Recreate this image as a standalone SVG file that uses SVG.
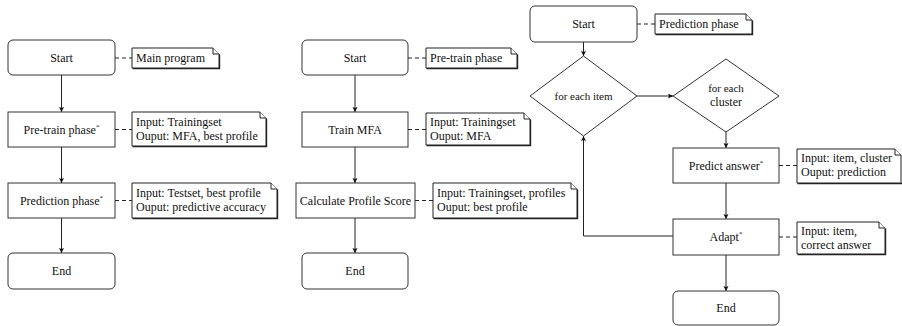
<svg xmlns="http://www.w3.org/2000/svg" width="902" height="326" viewBox="0 0 902 326" font-family="'Liberation Serif', 'DejaVu Serif', serif">
<defs>
<marker id="ah" markerWidth="6" markerHeight="6" refX="5" refY="2.5" orient="auto" markerUnits="userSpaceOnUse">
<path d="M0,0 L5,2.5 L0,5 L1,2.5 z" fill="#111"/>
</marker>
<style>
text{font-family:'Liberation Serif','DejaVu Serif',serif}
.box{fill:#fff;stroke:#333;stroke-width:1}
.t{font-size:12px;fill:#111}
.m{text-anchor:middle}
.s{font-size:11px}
.sup{font-size:7px}
.note{fill:#fff;stroke:#222;stroke-width:1}
.sh{fill:none;stroke:#222;stroke-width:1.2}
.fold{fill:#fff;stroke:#222;stroke-width:1}
.arr{fill:none;stroke:#222;stroke-width:1;marker-end:url(#ah)}
.d{fill:none;stroke:#222;stroke-width:1;stroke-dasharray:4 3}
</style>
</defs>
<rect width="902" height="326" fill="#fff"/>

<g id="connectors">
<line class="arr" x1="61.5" y1="75" x2="61.5" y2="112"/>
<line class="arr" x1="61.5" y1="147" x2="61.5" y2="183"/>
<line class="arr" x1="61.5" y1="218" x2="61.5" y2="253"/>
<line class="d" x1="115" y1="58" x2="132" y2="58"/>
<line class="d" x1="115" y1="129.5" x2="132" y2="129.5"/>
<line class="d" x1="115" y1="200.5" x2="132" y2="200.5"/>

<line class="arr" x1="355" y1="75" x2="355" y2="112"/>
<line class="arr" x1="355" y1="147" x2="355" y2="183"/>
<line class="arr" x1="355" y1="218" x2="355" y2="253"/>
<line class="d" x1="408" y1="58" x2="426" y2="58"/>
<line class="d" x1="408" y1="129.5" x2="426" y2="129.5"/>
<line class="d" x1="415" y1="200.5" x2="433" y2="200.5"/>

<line class="arr" x1="583.5" y1="42" x2="583.5" y2="56"/>
<line class="arr" x1="637" y1="96" x2="673" y2="96"/>
<line class="arr" x1="726" y1="132" x2="726" y2="148"/>
<line class="arr" x1="726" y1="183" x2="726" y2="219"/>
<line class="arr" x1="726" y1="255" x2="726" y2="291"/>
<path class="arr" d="M673,236 H583.5 V136"/>
<line class="d" x1="637" y1="24" x2="655" y2="24"/>
<line class="d" x1="779" y1="165.5" x2="797" y2="165.5"/>
<line class="d" x1="779" y1="237" x2="797" y2="237"/>
</g>

<!-- Column 1 -->
<g id="c1-start"><rect class="box" x="8" y="40" width="107" height="35" rx="5"/><text class="t m" x="61.5" y="61.5">Start</text></g>
<g id="c1-pretrain"><rect class="box" x="8" y="112" width="107" height="35"/><text class="t m" x="61.5" y="133.5">Pre-train phase<tspan class="sup" dy="-5">*</tspan></text></g>
<g id="c1-prediction"><rect class="box" x="8" y="183" width="107" height="35"/><text class="t m" x="61.5" y="204.5">Prediction phase<tspan class="sup" dy="-5">*</tspan></text></g>
<g id="c1-end"><rect class="box" x="8" y="253" width="107" height="36" rx="5"/><text class="t m" x="61.5" y="275">End</text></g>

<g id="c1-note-main">
<path class="sh" d="M219.6,54.6 V68.6 H132.6"/>
<path class="note" d="M132,48 H213 L219,54 V68 H132 Z"/>
<path class="fold" d="M213,48 V54 H219"/>
<text class="t" x="136" y="62">Main program</text>
</g>
<g id="c1-note-pretrain">
<path class="sh" d="M266.6,118.6 V146.6 H132.6"/>
<path class="note" d="M132,112 H260 L266,118 V146 H132 Z"/>
<path class="fold" d="M260,112 V118 H266"/>
<text class="t" x="136" y="126">Input: Trainingset</text>
<text class="t" x="136" y="140">Ouput: MFA, best profile</text>
</g>
<g id="c1-note-prediction">
<path class="sh" d="M277.6,189.6 V218.6 H132.6"/>
<path class="note" d="M132,183 H271 L277,189 V218 H132 Z"/>
<path class="fold" d="M271,183 V189 H277"/>
<text class="t" x="136" y="197">Input: Testset, best profile</text>
<text class="t" x="136" y="211">Ouput: predictive accuracy</text>
</g>

<!-- Column 2 -->
<g id="c2-start"><rect class="box" x="302" y="40" width="106" height="35" rx="5"/><text class="t m" x="355" y="61.5">Start</text></g>
<g id="c2-train"><rect class="box" x="302" y="112" width="106" height="35"/><text class="t m" x="355" y="133.5">Train MFA</text></g>
<g id="c2-calc"><rect class="box" x="296" y="183" width="119" height="35"/><text class="t m" x="355.5" y="204.5">Calculate Profile Score</text></g>
<g id="c2-end"><rect class="box" x="302" y="253" width="106" height="36" rx="5"/><text class="t m" x="355" y="275">End</text></g>

<g id="c2-note-pretrain">
<path class="sh" d="M517.6,54.6 V68.6 H426.6"/>
<path class="note" d="M426,48 H511 L517,54 V68 H426 Z"/>
<path class="fold" d="M511,48 V54 H517"/>
<text class="t" x="430" y="62">Pre-train phase</text>
</g>
<g id="c2-note-train">
<path class="sh" d="M530.6,119.6 V145.6 H426.6"/>
<path class="note" d="M426,113 H524 L530,119 V145 H426 Z"/>
<path class="fold" d="M524,113 V119 H530"/>
<text class="t" x="430" y="126">Input: Trainingset</text>
<text class="t" x="430" y="140">Ouput: MFA</text>
</g>
<g id="c2-note-calc">
<path class="sh" d="M577.6,189.6 V218.6 H433.6"/>
<path class="note" d="M433,183 H571 L577,189 V218 H433 Z"/>
<path class="fold" d="M571,183 V189 H577"/>
<text class="t" x="437" y="197">Input: Trainingset, profiles</text>
<text class="t" x="437" y="211">Ouput: best profile</text>
</g>

<!-- Column 3 -->
<g id="c3-start"><rect class="box" x="530" y="6" width="107" height="36" rx="5"/><text class="t m" x="583.5" y="28">Start</text></g>
<g id="c3-note-start">
<path class="sh" d="M752.6,20.6 V34.6 H655.6"/>
<path class="note" d="M655,14 H746 L752,20 V34 H655 Z"/>
<path class="fold" d="M746,14 V20 H752"/>
<text class="t" x="659" y="28">Prediction phase</text>
</g>
<g id="c3-item"><polygon class="box" points="583.5,56 637,96 583.5,136 530,96"/><text class="t m s" x="583.5" y="100">for each item</text></g>
<g id="c3-cluster"><polygon class="box" points="726,59 779,96 726,132 673,96"/><text class="t m s" x="726" y="92">for each</text><text class="t m" x="726" y="106">cluster</text></g>
<g id="c3-predict"><rect class="box" x="673" y="148" width="106" height="35"/><text class="t m" x="726" y="169.5">Predict answer<tspan class="sup" dy="-5">*</tspan></text></g>
<g id="c3-adapt"><rect class="box" x="673" y="219" width="106" height="36"/><text class="t m" x="726" y="241">Adapt<tspan class="sup" dy="-5">*</tspan></text></g>
<g id="c3-end"><rect class="box" x="673" y="291" width="106" height="34" rx="5"/><text class="t m" x="726" y="312">End</text></g>
<g id="c3-note-predict">
<path class="sh" d="M902,183.6 H797.6"/>
<path class="note" d="M797,149 H895 L901,155 V183 H797 Z"/>
<path class="fold" d="M895,149 V155 H901"/>
<text class="t" x="801" y="162">Input: item, cluster</text>
<text class="t" x="801" y="176">Ouput: prediction</text>
</g>
<g id="c3-note-adapt">
<path class="sh" d="M885.6,228.6 V254.6 H797.6"/>
<path class="note" d="M797,222 H879 L885,228 V254 H797 Z"/>
<path class="fold" d="M879,222 V228 H885"/>
<text class="t" x="801" y="235">Input: item,</text>
<text class="t" x="801" y="249">correct answer</text>
</g>
</svg>
